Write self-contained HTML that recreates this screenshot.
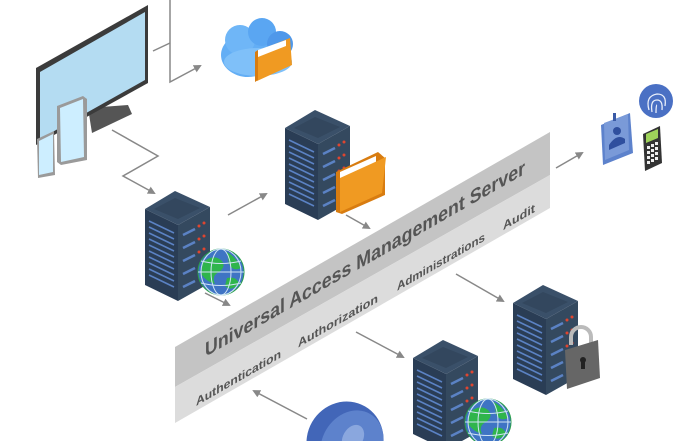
<!DOCTYPE html>
<html><head><meta charset="utf-8"><style>
html,body{margin:0;padding:0;background:#fff;width:700px;height:441px;overflow:hidden;}
svg{display:block;}
text{font-family:"Liberation Sans",sans-serif;}
</style></head><body>
<svg width="700" height="441" viewBox="0 0 700 441" xmlns="http://www.w3.org/2000/svg">
<defs>
<marker id="ah" markerWidth="8" markerHeight="8" refX="6" refY="4" orient="auto" markerUnits="userSpaceOnUse">
<path d="M0,0 L8,4 L0,8 Z" fill="#888"/>
</marker>
<g id="srv">
<polygon points="0,18 33,34 33,110 0,94" fill="#2a3d55"/>
<polygon points="33,34 65,16 65,92 33,110" fill="#34495f"/>
<polygon points="0,18 30,0 65,16 33,34" fill="#3a5069"/>
<polygon points="9,18 30,7 55,17 33,28" fill="#33475e"/>
<g stroke="#5b82c4" stroke-width="1.6">
<line x1="4" y1="30" x2="29" y2="42"/><line x1="4" y1="36" x2="29" y2="48"/>
<line x1="4" y1="42" x2="29" y2="54"/><line x1="4" y1="48" x2="29" y2="60"/>
<line x1="4" y1="54" x2="29" y2="66"/><line x1="4" y1="60" x2="29" y2="72"/>
<line x1="4" y1="66" x2="29" y2="78"/><line x1="4" y1="72" x2="29" y2="84"/>
<line x1="4" y1="78" x2="29" y2="90"/><line x1="4" y1="84" x2="29" y2="96"/>
</g>
<g stroke="#5b82c4" stroke-width="2.5">
<line x1="38" y1="44" x2="50" y2="38"/><line x1="38" y1="57" x2="50" y2="51"/>
<line x1="38" y1="70" x2="50" y2="64"/><line x1="38" y1="83" x2="50" y2="77"/>
<line x1="38" y1="96" x2="50" y2="90"/>
</g>
<g fill="#e0452f">
<circle cx="54" cy="35" r="1.5"/><circle cx="59" cy="32" r="1.5"/>
<circle cx="54" cy="48" r="1.5"/><circle cx="59" cy="45" r="1.5"/>
<circle cx="54" cy="61" r="1.5"/><circle cx="59" cy="58" r="1.5"/>
</g>
</g>
<g id="globe">
<circle r="23" fill="#3f74c4" stroke="#2aa04a" stroke-width="1"/>
<path d="M-18,-10 Q-8,-18 0,-12 Q6,-6 -2,0 Q-10,4 -6,12 Q-14,10 -20,2 Z" fill="#2fb54c"/>
<path d="M6,-20 Q16,-14 20,-4 Q12,0 8,-8 Z M6,6 Q16,4 18,12 Q10,20 4,14 Z" fill="#2fb54c"/>
<g fill="none" stroke="#cfe4f5" stroke-width="1">
<ellipse rx="10" ry="23"/><ellipse rx="20" ry="23"/>
<line x1="-23" y1="0" x2="23" y2="0"/><path d="M-20,-11 Q0,-6 20,-11"/><path d="M-20,11 Q0,16 20,11"/>
</g>
</g>
</defs>

<!-- banner -->
<polygon points="175,347 550,132 550,175 175,387" fill="#c4c4c4"/>
<polygon points="175,387 550,175 550,208 175,423" fill="#dcdcdc"/>
<g transform="translate(205,357) skewY(-29.8)">
<text x="0" y="0" font-size="20" font-weight="bold" fill="#555" textLength="320" lengthAdjust="spacingAndGlyphs">Universal Access Management Server</text>
</g>
<g transform="translate(196,406) skewY(-29.8)" font-size="12" fill="#555" font-weight="bold">
<text x="0" y="0" textLength="85" lengthAdjust="spacingAndGlyphs">Authentication</text>
<text x="102" y="0" textLength="80" lengthAdjust="spacingAndGlyphs">Authorization</text>
<text x="201" y="0" textLength="88" lengthAdjust="spacingAndGlyphs">Administrations</text>
<text x="307" y="0" textLength="32" lengthAdjust="spacingAndGlyphs">Audit</text>
</g>

<!-- connectors -->
<g stroke="#888" stroke-width="1.5" fill="none">
<polyline points="170,0 170,82 200,66" marker-end="url(#ah)"/>
<line x1="153" y1="51" x2="170" y2="43"/>
<polyline points="112,130 158,156 123,176 154,193" marker-end="url(#ah)"/>
<line x1="228" y1="215" x2="266" y2="194" marker-end="url(#ah)"/>
<line x1="346" y1="215" x2="369" y2="228" marker-end="url(#ah)"/>
<line x1="205" y1="293" x2="229" y2="305" marker-end="url(#ah)"/>
<line x1="456" y1="274" x2="503" y2="301" marker-end="url(#ah)"/>
<line x1="356" y1="332" x2="403" y2="357" marker-end="url(#ah)"/>
<line x1="307" y1="419" x2="254" y2="391" marker-end="url(#ah)"/>
<line x1="556" y1="168" x2="582" y2="153" marker-end="url(#ah)"/>
</g>

<!-- monitor -->
<polygon points="88,108 128,105 132,114 92,133" fill="#555"/>
<polygon points="36,68 148,5 148,83 36,145" fill="#3b3b3b"/>
<polygon points="40,72 145,12 145,80 40,139" fill="#b4dcf2"/>
<polygon points="57,106 83,96 87,99 87,160 61,165 57,162" fill="#9a9a9a"/>
<polygon points="60,108 83,99 84,157 61,162" fill="#cdeeff"/>
<polygon points="37,139 54,131 55,175 38,178" fill="#9a9a9a"/>
<polygon points="39,141 53,134 53,172 39,175" fill="#cdeeff"/>

<!-- cloud -->
<g>
<ellipse cx="248" cy="55" rx="27" ry="22" fill="#63aef5"/>
<circle cx="240" cy="40" r="15" fill="#6fb6f7"/>
<circle cx="262" cy="32" r="14" fill="#5aa6f2"/>
<circle cx="280" cy="44" r="13" fill="#4f98ea"/>
<ellipse cx="258" cy="62" rx="34" ry="14" fill="#7fc0f9"/>
<polygon points="255,52 290,38 292,65 257,81" fill="#f09a22"/>
<polygon points="258,50 286,40 286,46 258,57" fill="#fff"/>
<polygon points="255,52 258,50 258,80 255,82" fill="#d87c10"/>
</g>

<!-- servers -->
<use href="#srv" x="145" y="191"/>
<use href="#globe" x="221" y="272"/>
<use href="#srv" x="285" y="110"/>
<polygon points="336,172 378,152 385,158 385,195 342,214 336,212" fill="#d87c10"/>
<polygon points="340,172 376,156 376,190 340,206" fill="#fff"/>
<polygon points="340,178 386,157 382,193 340,212" fill="#f09a22"/>
<use href="#srv" x="513" y="285"/>
<path d="M571,345 v-8 a10,10 0 0 1 20,0 v8" fill="none" stroke="#bbb" stroke-width="4"/>
<polygon points="565,350 598,340 600,378 567,389" fill="#666"/>
<circle cx="583" cy="360" r="3" fill="#222"/><rect x="581" y="361" width="4" height="8" fill="#222"/>
<use href="#srv" x="413" y="340"/>
<use href="#globe" x="488" y="422"/>

<!-- bottom blue shape -->
<ellipse cx="345" cy="441" rx="38" ry="40" fill="#4266b8" transform="rotate(30 345 441)"/>
<ellipse cx="352" cy="445" rx="30" ry="36" fill="#5d82cc" transform="rotate(30 352 445)"/>
<ellipse cx="353" cy="438" rx="10" ry="14" fill="#8aa7de" transform="rotate(30 353 438)"/>

<!-- right icons -->
<polygon points="601,125 630,113 633,153 603,165" fill="#5d82cc"/>
<polygon points="604,123 628,114 629,150 605,160" fill="#7a9ad8"/>
<rect x="613" y="113" width="3" height="8" fill="#3a5aa6"/>
<circle cx="617" cy="131" r="4" fill="#2f4f9e"/>
<path d="M609,145 q8,-12 16,-6 v4 l-16,7 z" fill="#2f4f9e"/>
<circle cx="656" cy="101" r="17" fill="#4a70c4"/>
<g fill="none" stroke="#e8eefa" stroke-width="1.3">
<path d="M649,110 q-4,-14 8,-16 q10,0 8,12"/><path d="M652,112 q-2,-12 5,-12 q6,0 5,10"/><path d="M656,113 q0,-8 1,-8"/>
</g>
<polygon points="643,134 660,126 662,163 645,171" fill="#333"/>
<polygon points="646,134 658,129 658,138 646,143" fill="#9fd35a"/>
<g fill="#eee">
<rect x="647" y="146" width="3" height="3"/><rect x="651" y="144" width="3" height="3"/><rect x="655" y="142" width="3" height="3"/>
<rect x="647" y="151" width="3" height="3"/><rect x="651" y="149" width="3" height="3"/><rect x="655" y="147" width="3" height="3"/>
<rect x="647" y="156" width="3" height="3"/><rect x="651" y="154" width="3" height="3"/><rect x="655" y="152" width="3" height="3"/>
<rect x="647" y="161" width="3" height="3"/><rect x="651" y="159" width="3" height="3"/><rect x="655" y="157" width="3" height="3"/>
</g>
</svg>
</body></html>
